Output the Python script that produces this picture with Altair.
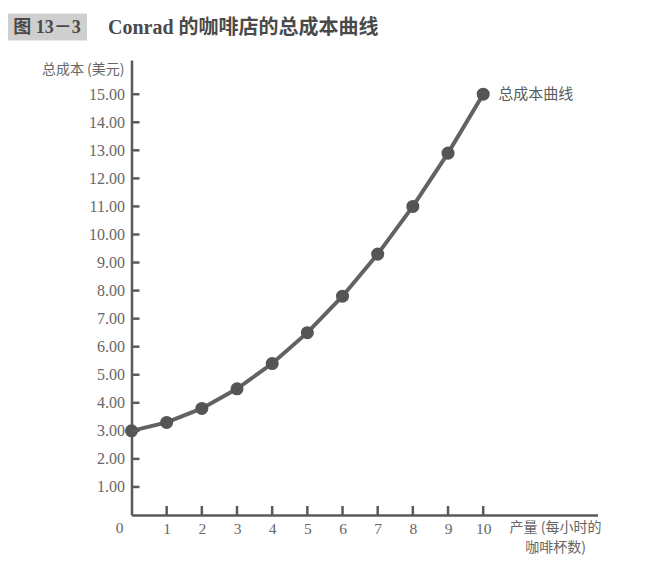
import altair as alt
import pandas as pd

# Data
quantity = [0, 1, 2, 3, 4, 5, 6, 7, 8, 9, 10]
total_cost = [3.00, 3.30, 3.80, 4.50, 5.40, 6.50, 7.80, 9.30, 11.00, 12.90, 15.00]
y_ticks = [1, 2, 3, 4, 5, 6, 7, 8, 9, 10, 11, 12, 13, 14, 15]
x_ticks = [1, 2, 3, 4, 5, 6, 7, 8, 9, 10]

fig_label = "图 13－3"
title_text = "Conrad 的咖啡店的总成本曲线"
y_title = "总成本 (美元)"
x_title_1 = "产量 (每小时的"
x_title_2 = "咖啡杯数)"
curve_label = "总成本曲线"

W, H = 466, 455
XMAX, YMAX = 13.25, 16.22
GRAY = "#5a5a5a"
LABEL = "#666666"
SERIF = "Liberation Serif, Noto Sans CJK SC"
CJK = "Noto Sans CJK SC"

df = pd.DataFrame({"q": quantity, "tc": total_cost})

xs = alt.Scale(domain=[0, XMAX], nice=False, zero=False)
ys = alt.Scale(domain=[0, YMAX], nice=False, zero=False)

x_axis = alt.Axis(values=x_ticks, ticks=False, grid=False, labelPadding=6,
                  labelOverlap=False, labelFont=SERIF, labelFontSize=15.5,
                  labelColor=LABEL, domainColor=GRAY, domainWidth=2.5, title=None)
y_axis = alt.Axis(values=y_ticks, ticks=False, grid=False, labelPadding=7,
                  labelOverlap=False, format=".2f", labelFont=SERIF,
                  labelFontSize=16, labelColor=LABEL, domainColor=GRAY,
                  domainWidth=2.5, title=None)

def X(f):
    return alt.X(f, scale=xs, axis=x_axis)

def Y(f):
    return alt.Y(f, scale=ys, axis=y_axis)

line = alt.Chart(df).mark_line(color="#626262", strokeWidth=4).encode(
    x=X("q:Q"), y=Y("tc:Q"),
)
pts = alt.Chart(df).mark_circle(color="#555555", size=170, opacity=1).encode(
    x=X("q:Q"), y=Y("tc:Q")
)

ytk = alt.Chart(pd.DataFrame({"v": y_ticks})).mark_rule(color=GRAY, strokeWidth=2.5).encode(
    y=Y("v:Q"), x=alt.value(0), x2=alt.value(8)
)
xtk = alt.Chart(pd.DataFrame({"v": x_ticks})).mark_rule(color=GRAY, strokeWidth=2.5).encode(
    x=X("v:Q"), y=alt.value(H), y2=alt.value(H - 9)
)

zero_lbl = alt.Chart(pd.DataFrame({"v": [0], "t": ["0"]})).mark_text(
    font=SERIF, fontSize=15.5, color=LABEL, dx=-12, baseline="top"
).encode(x=X("v:Q"), y=alt.value(H + 6), text="t:N")

curve_txt = alt.Chart(pd.DataFrame({"q": [quantity[-1]], "tc": [total_cost[-1]], "t": [curve_label]})).mark_text(
    font=CJK, fontSize=15, color=GRAY, align="left", dx=15
).encode(x=X("q:Q"), y=Y("tc:Q"), text="t:N")

def txt(s, x, y, **kw):
    return alt.Chart(alt.Data(values=[{"t": s}])).mark_text(**kw).encode(
        x=alt.value(x), y=alt.value(y), text="t:N"
    )

ytitle = txt(y_title, -7, 10, font=CJK, fontSize=14, color=LABEL, align="right", baseline="middle")
xt1 = txt(x_title_1, 424, 14 + H - 1, font=CJK, fontSize=14, color=LABEL, align="center", baseline="middle")
xt2 = txt(x_title_2, 424, 34 + H - 1, font=CJK, fontSize=14, color=LABEL, align="center", baseline="middle")

box = alt.Chart(alt.Data(values=[{"a": 1}])).mark_rect(color="#cfcfcf").encode(
    x=alt.value(-124.5), x2=alt.value(-44.5), y=alt.value(-46.5), y2=alt.value(-19.5)
)
figl = txt(fig_label, -84.5, -32.5, font=SERIF, fontSize=18, fontWeight="bold",
           color="#4a4a4a", align="center", baseline="middle")
ttl = txt(title_text, -23.5, -32.5, font=SERIF, fontSize=20, fontWeight="bold",
          color="#4a4a4a", align="left", baseline="middle")

chart = alt.layer(
    line, box, figl, ttl, pts, ytk, xtk, zero_lbl, curve_txt, ytitle, xt1, xt2
).properties(
    width=W, height=H,
    background="white",
    autosize=alt.AutoSizeParams(type="none"),
    padding={"left": 123.5, "top": 52, "right": 60, "bottom": 50},
).configure_view(strokeWidth=0)

chart.save("out.html", embed_options={"renderer": "svg", "actions": False})
